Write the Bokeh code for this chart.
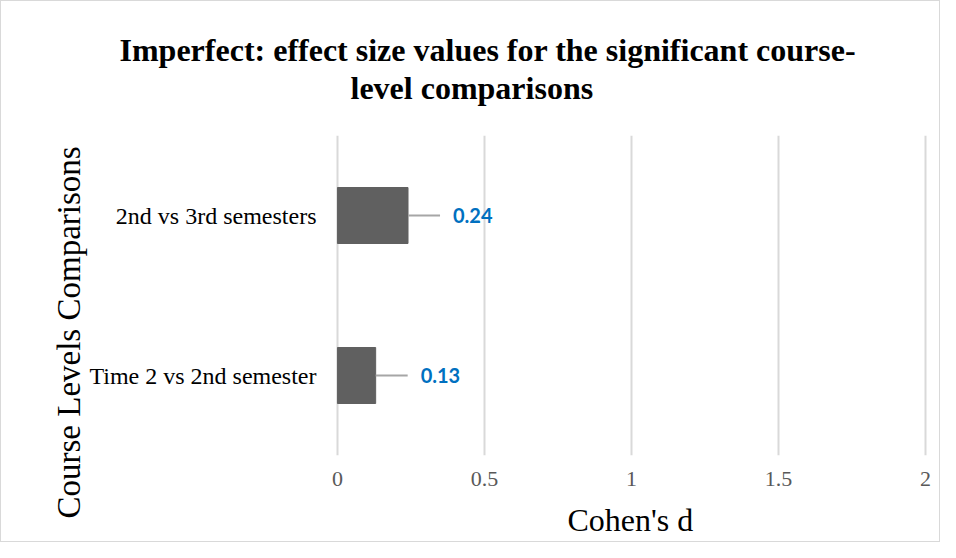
from bokeh.plotting import figure
from bokeh.models import Range1d, FactorRange, Title, ColumnDataSource
from bokeh.core.properties import value
from bokeh.embed import file_html
from bokeh.resources import INLINE

categories = ["Time 2 vs 2nd semester", "2nd vs 3rd semesters"]
cohens_d = [0.13, 0.24]
value_labels = ["0.13", "0.24"]
x_ticks = [0, 0.5, 1, 1.5, 2]

W, H = 940, 542
p = figure(width=W, height=H, output_backend="svg", toolbar_location=None,
           x_range=Range1d(-0.01, 2.01), y_range=FactorRange(*categories, range_padding=0),
           min_border_left=333, min_border_right=13, min_border_top=134, min_border_bottom=88)
p.styles = {"border": "1px solid #d9d9d9"}
p.outline_line_color = None
p.background_fill_color = "white"
p.border_fill_color = "white"

px_per_unit = 294.0
lead_len = 32 / px_per_unit

src = ColumnDataSource(dict(cat=categories, d=cohens_d, lab=value_labels,
                            d_end=[v + lead_len for v in cohens_d]))

p.hbar(y="cat", right="d", left=0, height=0.35, source=src, fill_color="#606060",
       line_color="#606060")
p.segment(x0="d", y0="cat", x1="d_end", y1="cat", source=src, line_color="#a6a6a6", line_width=2)
p.text(x="d", y="cat", text="lab", source=src, x_offset=45, text_baseline="middle",
       text_align="left", text_font=value("Lato"), text_font_style="bold",
       text_font_size="20px", text_color="#0070c0")

p.xgrid.grid_line_color = "#d9d9d9"
p.xgrid.grid_line_width = 2
p.ygrid.grid_line_color = None
p.xaxis.ticker = x_ticks
p.xaxis.major_label_overrides = {0: "0", 0.5: "0.5", 1: "1", 1.5: "1.5", 2: "2"}
for ax in (p.xaxis, p.yaxis):
    ax.axis_line_color = None
    ax.major_tick_line_color = None
    ax.minor_tick_line_color = None
    ax.major_label_text_font = "Liberation Serif"
p.xaxis.major_label_text_font_size = "22px"
p.yaxis.major_label_text_font_size = "24px"
p.xaxis.major_label_text_color = "#595959"
p.xaxis.major_label_standoff = 10
p.yaxis.major_label_text_color = "#000000"
p.yaxis.major_label_standoff = 12

# spacer, then title lines (later titles sit further from the plot)
p.add_layout(Title(text=" ", text_font_size="25px", standoff=0), "above")
p.add_layout(Title(text="level comparisons", align="left", offset=16,
                   text_font="Liberation Serif", text_font_style="bold",
                   text_font_size="32px", text_color="black", standoff=0), "above")
p.add_layout(Title(text="Imperfect: effect size values for the significant course-",
                   align="left", offset=-215,
                   text_font="Liberation Serif", text_font_style="bold",
                   text_font_size="32px", text_color="black", standoff=0), "above")
p.add_layout(Title(text="Course Levels Comparisons", align="left", offset=-63,
                   text_font="Liberation Serif", text_font_style="normal",
                   text_font_size="33px", text_color="black", standoff=0), "left")
p.add_layout(Title(text=" ", text_font_size="8px", standoff=0), "below")
p.add_layout(Title(text="Cohen's d", align="left", offset=233,
                   text_font="Liberation Serif", text_font_style="normal",
                   text_font_size="32px", text_color="black", standoff=0), "below")

open("out.html", "w").write(file_html(p, INLINE))
